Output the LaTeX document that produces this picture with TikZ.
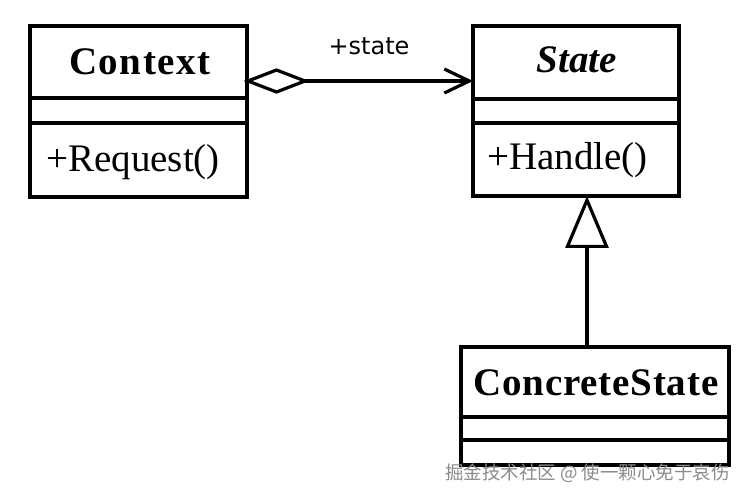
\documentclass[tikz,border=0pt]{standalone}
\usepackage{fontspec}
\setmainfont{Liberation Serif}
\newfontfamily\labelsans{DejaVu Sans}
\newfontfamily\cjkfont{Noto Sans CJK SC}
\usetikzlibrary{arrows.meta,shapes.geometric,calc}
\begin{document}
\begin{tikzpicture}[x=1pt,y=-1pt,
  classbox/.style={draw,line width=3.2pt,inner sep=0pt,outer sep=0pt},
  divider/.style={line width=3.2pt},
  conn/.style={line width=3.2pt},
  bigname/.style={font=\bfseries\fontsize{39}{40}\selectfont,inner sep=0pt,anchor=base},
  member/.style={font=\fontsize{39}{40}\selectfont,inner sep=0pt,anchor=base west},
  agg/.style={diamond,draw,line width=3.2pt,minimum width=57pt,minimum height=22pt,inner sep=0pt,outer sep=0pt,aspect=2.6}
]
\useasboundingbox[fill=white] (0,0) rectangle (753,497);
% boxes
\node[classbox,minimum width=217pt,minimum height=171pt] (context) at (138.5,111.5) {};
\node[classbox,minimum width=206pt,minimum height=170pt] (state) at (576,111) {};
\node[classbox,minimum width=268pt,minimum height=118pt] (concrete) at (595,406) {};
% dividers
\draw[divider] ($(context.north west)+(0,72)$) -- ($(context.north east)+(0,72)$);
\draw[divider] ($(context.north west)+(0,97)$) -- ($(context.north east)+(0,97)$);
\draw[divider] ($(state.north west)+(0,73)$) -- ($(state.north east)+(0,73)$);
\draw[divider] ($(state.north west)+(0,97)$) -- ($(state.north east)+(0,97)$);
\draw[divider] ($(concrete.north west)+(0,70)$) -- ($(concrete.north east)+(0,70)$);
\draw[divider] ($(concrete.north west)+(0,93)$) -- ($(concrete.north east)+(0,93)$);
% texts
\node[bigname] (ctxname) at (140,75) {\addfontfeature{LetterSpace=4}Context};
\node[member] (ctxop) at (46,172) {+Request()};
\node[bigname,font=\bfseries\itshape\fontsize{39}{40}\selectfont] (stname) at (577,73) {State};
\node[member] (stop) at (487,170) {+Handle()};
\node[bigname] (csname) at (596,395) {\addfontfeature{LetterSpace=2}ConcreteState};
% aggregation
\node[agg,anchor=west] (dia) at ($(context.north east)+(1,55)$) {};
\draw[conn,-{Straight Barb[length=25pt,width=24pt,line width=3.2pt]}] (dia.east) -- (dia.east -| state.west);
\node[font=\labelsans\fontsize{24}{26}\selectfont,inner sep=0pt,anchor=base] (rolelabel) at (369,55) {+state};
% generalization
\coordinate (genx) at (587,0);
\draw[conn,-{Triangle[open,length=52pt,width=43pt,line width=3.2pt]}] (concrete.north -| genx) -- (state.south -| genx);
% watermark
\node[font=\cjkfont\fontsize{18.5}{20}\selectfont,text=black!45,inner sep=0pt,anchor=base west] (wm) at (445,479) {掘金技术社区 @ 使一颗心免于哀伤};
\end{tikzpicture}
\end{document}
